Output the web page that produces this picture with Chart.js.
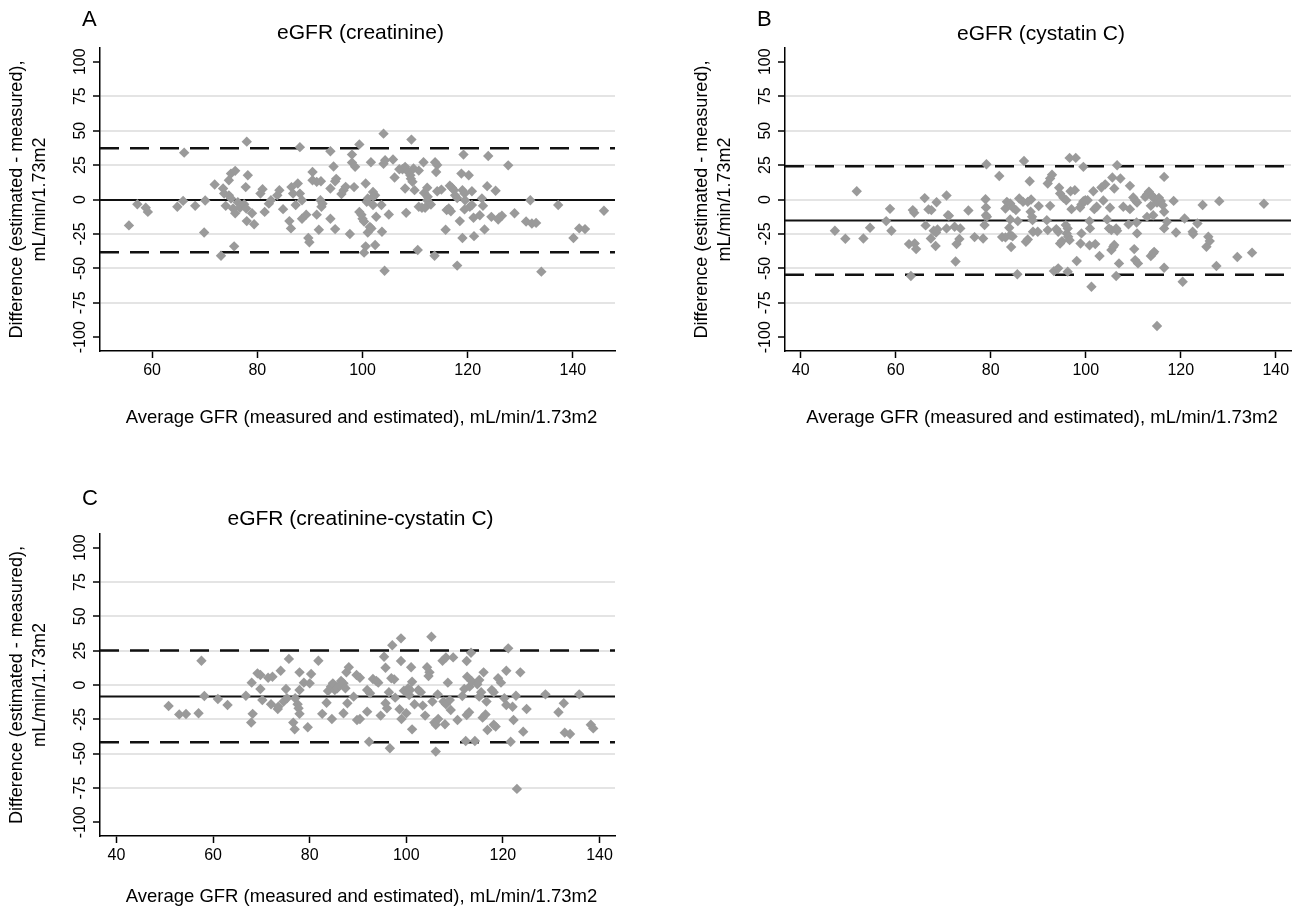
<!DOCTYPE html>
<html>
<head>
<meta charset="utf-8">
<script src="https://cdn.jsdelivr.net/npm/chart.js@4.4.1/dist/chart.umd.min.js"></script>
<style>
  html, body { margin: 0; padding: 0; background: #fff; }
  #wrap { position: relative; width: 1298px; height: 914px; }
  #wrap canvas { position: absolute; left: 0; top: 0; }
</style>
</head>
<body>
<div id="wrap">
  <canvas id="cA" width="1298" height="914"></canvas>
  <canvas id="cB" width="1298" height="914"></canvas>
  <canvas id="cC" width="1298" height="914"></canvas>
</div>
<script>
// Bland-Altman points [average GFR, difference]
const ptsA = [
  [55.6,-18.8],[57.2,-3.4],[58.8,-6],[59.2,-9],[64.8,-5.3],[65.9,-1],[66.1,34],[68.2,-4.6],[69.9,-24],[70.1,-0.7],
  [71.9,10.9],[73.1,-40.8],[73.5,8],[73.7,4.3],[74,-4.6],[74.6,14],[75,18.8],[75.8,20.8],[74.6,3],[75,0.7],
  [75.4,-6.5],[75.8,-10],[75.6,-34],[76.3,-2],[76.7,-6],[77.5,-3.5],[77.9,-6.5],[77.8,9],[78,42],[78.2,17.6],
  [78,-15.7],[79,-10],[79.4,-18],[80.6,4.3],[81,7.5],[81.4,-9],[82.2,-3],[82.6,-0.5],[83.8,3],[84.2,6.8],
  [84.9,-7],[86.1,-15.7],[86.4,-21],[86.5,9],[86.8,4.3],[87.3,-4],[87.7,11.6],[88.1,38],[88.1,4.3],[88.5,-0.5],
  [88.5,-14],[89.3,-11],[89.7,-28],[89.9,-31],[90.5,20],[90.5,14],[91.3,12.8],[92.1,13.3],[91.3,-11],[91.7,-22],
  [92,-0.5],[92.4,-3],[92.2,-5.3],[93.9,-14],[93.9,35],[93.9,8],[94.5,24],[94.8,13.3],[95,15],[94.8,-21.5],
  [96,4],[96.4,6.8],[96.8,9.2],[97.6,-25],[98,32.6],[98,26.8],[98.6,23.7],[98.4,9],[99.4,40],[99.4,-9],
  [99.8,-11],[100,-14],[100.3,-16],[100.3,-38.6],[100.6,11.6],[100.6,-34],[101,0.7],[100.8,-1.7],[101,-24],[101.4,-20],
  [101.7,-21],[101.6,27],[102,5.5],[102.4,3],[102,2],[102,-4],[102.4,-33],[102.6,-12.5],[103.6,-4],[103.7,-23.4],
  [104,47.8],[104,26],[104.3,28.5],[104.2,-51.7],[105,-10.9],[105.8,29],[106.1,16],[107,22],[107.6,22],[108.1,23.7],
  [108.1,8],[108.3,-9.7],[108.7,20],[109.1,17.6],[109.2,15],[109.5,12.8],[109.3,43.5],[109.7,22.5],[109.9,6.8],[110.5,-36.7],
  [110.7,21],[110.7,-5.3],[111.3,-6],[111.6,27],[111.7,4.8],[112.3,-0.5],[112.4,2],[112.3,8.5],[111.9,-6],[113,-3.6],
  [113.7,-40.8],[113.8,27],[114.2,25],[114,20],[114.2,6],[115,7.2],[115.8,-22],[116,-7.7],[116.4,-6.5],[116.8,-8.5],
  [116.6,10],[117,8.5],[117.4,6.8],[117.6,3],[118,1],[118,-48],[118.5,-15.7],[118.8,18.8],[119,6.8],[119.2,32.6],
  [119,-28],[119.4,4.3],[119.5,-0.5],[119.4,-7.2],[120.2,17.6],[120.4,-5.3],[120.8,-4],[120.8,6],[121.1,-13.3],[121.2,-26.6],
  [122.3,-11.4],[122.7,0.7],[122.9,-4.6],[123.2,-21.7],[123.7,9.7],[123.9,31.6],[124.5,-12.6],[125.3,6.3],[125.8,-14.5],[126,-13],
  [126.5,-11.8],[127.7,24.8],[128.9,-10],[131.1,-16],[131.9,-0.5],[132.2,-17.4],[133,-17],[134,-52.4],[137.2,-4],[140.1,-28],
  [141.2,-21],[142.3,-21.5],[145.9,-8.2]
];
const ptsB = [
  [47.2,-22.7],[49.4,-28.5],[51.8,6],[53.2,-28.3],[54.6,-20.5],[58,-15.7],[58.8,-6.8],[59.1,-22.7],[62.8,-32.4],[63.2,-55.5],
  [63.6,-7.7],[63.9,-9.7],[64,-32],[64.3,-36],[66.1,1],[66.3,-18.8],[66.9,-7.2],[67.5,-7.7],[67.4,-28.3],[68,-22.7],
  [68.5,-24],[68.8,-21.7],[68.4,-33.8],[68.6,-2],[70.7,2.9],[71,-11.4],[71.2,-11.8],[70.7,-21],[72.4,-19.8],[73.6,-21],
  [72.8,-32.4],[73.4,-28.7],[72.6,-45],[75.3,-8],[76.6,-27.3],[78.4,-28.3],[78.7,-18.6],[78.9,0.2],[79,-5.8],[79,-11.4],
  [79.1,25.6],[79.2,-12.6],[81.8,17.1],[82.4,-27.3],[83.1,-27.5],[83.1,-6.5],[83.4,-1.7],[84.1,-2.9],[84.7,-6],[83.9,-20.5],
  [84.1,-14.5],[84.1,-25.8],[84.6,-26.8],[84.3,-34.5],[85.3,-7.7],[85.6,-54.3],[85.7,-15.7],[86,0.7],[87,28],[86.8,-1.7],
  [87.4,-30.7],[87.8,-29],[87.8,-1.7],[88.5,0],[88.2,13.3],[88.4,-8.9],[88.7,-12.6],[88.8,-15],[88.9,-23.4],[90.1,-4.8],
  [89.9,-23.4],[91.8,-15],[92,-22.2],[92,11.6],[92.5,15.2],[92.9,18],[92.5,-4.6],[93.3,-52],[94.2,-50],[93.8,-21.5],
  [94.2,-23.4],[94.4,8.5],[94.6,4.3],[94.6,-31.9],[95,-30.2],[95.3,1.2],[95.9,-0.5],[95.8,-18.6],[96.2,-21],[96,-24.6],
  [96.3,-27],[96.6,-29.5],[96.2,-52.4],[96.6,30.2],[97.9,30.2],[96.8,6],[97.7,6.8],[97,-7],[98.1,-44.7],[98.8,-5.8],
  [99.1,-3.6],[99.5,-1.2],[99.9,-0.5],[100.4,-0.5],[98.9,-31.9],[99.1,-24.6],[99.5,23.7],[100.8,-15.7],[100.9,-21],[100.8,-33.3],
  [101.2,-63.3],[101.6,6],[101.8,-7],[102.3,-5.3],[102,-32.4],[102.9,-41],[103.3,8.7],[103.7,-0.7],[104.1,11],[104.5,-14.5],
  [104.9,-21],[105.4,-22.2],[105.1,-6],[105.4,-36.7],[105.8,-34.3],[106,-33],[105.6,16],[106,8],[106.4,-21],[106.6,-22.7],
  [106.6,24.9],[106.4,-55.5],[107.3,15.2],[107,-46.4],[107.9,-5.3],[109,-18],[109.3,-7],[109.3,9.9],[110,1.4],[110.4,-0.5],
  [110.8,-2.2],[110.2,-36],[110.4,-44],[111,-46.4],[110.7,-16.7],[110.8,-24.6],[112.5,1.9],[112.9,3.6],[113.3,5.6],[113.7,3.6],
  [114.1,1.9],[114.5,0.7],[113.7,-4.6],[115,-2.2],[115.4,1.2],[115.8,-1],[116.2,-4.1],[116.5,-8.9],[112.9,-12.6],[114.2,-11.4],
  [113.7,-41],[114.2,-39],[114.4,-38],[115,-91.8],[116.5,16.4],[116.5,-21],[117.1,-16.2],[116.5,-49.5],[118.5,-1],[119,-24],
  [120.4,-59.7],[120.8,-13.8],[122.5,-23.4],[122.6,-25],[123.5,-17.4],[124.6,-4],[125.4,-34.3],[125.8,-27],[126.1,-30.2],[127.5,-48.3],
  [128.1,-1.2],[131.9,-41.8],[135,-38.6],[137.5,-3.1]
];
const ptsC = [
  [50.8,-15.3],[53,-21.4],[54.4,-21.1],[57,-20.6],[57.6,17.7],[58.2,-8],[61,-10.2],[63,-14.6],[66.8,-7.8],[68,1.7],
  [68.2,-21],[67.9,-27.4],[69.2,8.5],[69.8,7.3],[69.8,-2.9],[70.2,-10.9],[71.4,5.3],[72.3,6],[72,-14],[73.4,-17.5],
  [73.5,-15.8],[74,10.4],[74.6,-12],[75.1,-2.9],[75.3,-9.7],[75.7,19],[76.6,-27.4],[76.9,-32.3],[77,-9.7],[77.5,-14],
  [77.7,-17],[77.9,9.2],[77.9,-3.6],[77.9,-21],[78.8,1.7],[79.6,-30.8],[80,1.2],[80.3,8],[81.8,17.7],[82.6,-21],
  [83.5,-12.9],[83.8,-4.4],[84.4,-1.2],[84.8,1.2],[84.6,-24.8],[85.2,-3.6],[85.7,-2.4],[86.1,-0.5],[86.5,2.9],[87,1.2],
  [87,-20.6],[87.4,-2.4],[87.6,9.2],[88.1,12.9],[87.8,-13.3],[89.1,-8.5],[89.7,7.3],[90.4,5.3],[89.8,-25.5],[90.4,-24.8],
  [91.9,-3.6],[91.9,-19.4],[92.3,-41.3],[92.5,-6],[93.1,4.4],[93.8,2.9],[94.2,1.7],[94.7,-22.3],[95.4,20.6],[95.7,12.6],
  [95.7,-13.3],[96,-17],[96.4,-5.3],[96.6,-46.1],[97.1,29],[96.9,4.9],[97.5,4.1],[97.7,-9.2],[98.9,34],[98.9,17.5],
  [98.6,-17.7],[99,-24.8],[99.5,-4.1],[100,-20.6],[100.4,-2.4],[100.8,-3.6],[100.6,-7.3],[101,12.9],[101.2,2.4],[101.2,-32.3],
  [101.7,-14],[102.5,-3.6],[103,-5.3],[103.4,-15],[103.9,-22.3],[104.3,12.9],[104.8,9.2],[104.6,6.5],[105.2,35.2],[105.4,-12.1],
  [105.8,-27.4],[106.1,-29],[106.1,-48.5],[106.5,-6.8],[106.6,-24.8],[107.5,17.7],[108.2,20],[107.7,-12.1],[108.2,-14],[108,-28.6],
  [108.6,1.7],[109,-10.9],[109.2,-18.2],[109.7,20.1],[110.6,-25.5],[111.6,-8],[112,-2.9],[112.3,-40.8],[112.5,17.5],[112.6,6],
  [113.1,-1.2],[113.5,2.9],[112.5,-21.8],[113,-19.9],[113.4,23.5],[114.2,-40.8],[114.7,0.5],[115.1,3.6],[115.1,-8.5],[115.5,-5.3],
  [116,9.2],[115.8,-23.8],[116.4,-21.4],[116.6,-12.1],[116.8,-32.8],[117.7,-3.6],[118.1,-5.3],[118.1,-29],[118.5,-30.3],[119,4.9],
  [119.6,1.7],[120.3,-9.7],[120.7,-14.6],[120.7,10.4],[121.1,26.7],[121.6,-41.3],[122,-15.8],[122.2,-25.5],[122.7,-7.8],[122.9,-75.7],
  [123.6,9.2],[124.2,-34],[124.9,-17.5],[128.8,-6.8],[131.5,-19.9],[132.6,-13.3],[132.8,-34.7],[133.9,-35.7],[135.8,-6.8],[138.2,-29],
  [138.7,-31.6]
];

// lower limit of agreement, mean difference, upper limit
const limitsA = [-38.3, -0.4, 37.3];
const limitsB = [-54.6, -15.2, 24.2];
const limitsC = [-41.7, -8.3, 25.2];

const xRangeA = [50.1, 148.0];
const xRangeB = [36.7, 143.2];
const xRangeC = [36.6, 143.2];
const yRange = [-110, 110];

const xTicksA = [60, 80, 100, 120, 140];
const xTicksBC = [40, 60, 80, 100, 120, 140];
const yTicks = [-100, -75, -50, -25, 0, 25, 50, 75, 100];

const titles = ["eGFR (creatinine)", "eGFR (cystatin C)", "eGFR (creatinine-cystatin C)"];
const letters = ["A", "B", "C"];
const xTitle = "Average GFR (measured and estimated), mL/min/1.73m2";
const yTitle = ["Difference (estimated - measured),", "mL/min/1.73m2"];

const W = 1298, H = 914;
const FONT = '"Liberation Sans", Arial, Helvetica, sans-serif';

// draws the panel letter, title, tick labels and axis titles
const panelText = {
  id: "panelText",
  afterDraw(chart, args, o) {
    const { ctx, chartArea: a, scales } = chart;
    const cx = (a.left + a.right) / 2;
    const cy = (a.top + a.bottom) / 2;
    ctx.save();
    ctx.fillStyle = "#000";
    ctx.textBaseline = "middle";

    ctx.font = "22px " + FONT;
    ctx.textAlign = "left";
    ctx.fillText(o.letter, o.letterX, o.letterY);
    ctx.font = "21px " + FONT;
    ctx.textAlign = "center";
    ctx.fillText(o.title, cx + 3, o.titleY);

    ctx.font = "16px " + FONT;
    o.xTicks.forEach((v) => {
      ctx.fillText(String(v), scales.x.getPixelForValue(v), a.bottom + 20);
    });
    yTicks.forEach((v) => {
      ctx.save();
      ctx.translate(a.left - 19, scales.y.getPixelForValue(v));
      ctx.rotate(-Math.PI / 2);
      ctx.fillText(String(v), 0, 0);
      ctx.restore();
    });

    ctx.font = "18.5px " + FONT;
    ctx.fillText(xTitle, cx + 4, o.xTitleY);
    ctx.font = "18px " + FONT;
    [a.left - 83, a.left - 60].forEach((x, i) => {
      ctx.save();
      ctx.translate(x, cy);
      ctx.rotate(-Math.PI / 2);
      ctx.fillText(yTitle[i], 0, 0);
      ctx.restore();
    });
    ctx.restore();
  },
};

function limitLine(y, range, dashed) {
  return {
    data: [{ x: range[0], y: y }, { x: range[1], y: y }],
    showLine: true,
    pointRadius: 0,
    borderColor: "#111",
    borderWidth: dashed ? 2.5 : 2,
    borderDash: dashed ? [19, 11] : [],
    order: 1,
  };
}

function makePanel(id, pts, limits, xRange, xTicks, i, box) {
  new Chart(document.getElementById(id), {
    type: "scatter",
    data: {
      datasets: [
        {
          data: pts.map((p) => ({ x: p[0], y: p[1] })),
          pointStyle: "rectRot",
          pointRadius: 5.2,
          backgroundColor: "#9a9a9a",
          borderWidth: 0,
          order: 0,
        },
        limitLine(limits[0], xRange, true),
        limitLine(limits[1], xRange, false),
        limitLine(limits[2], xRange, true),
      ],
    },
    options: {
      responsive: false,
      animation: false,
      events: [],
      layout: {
        padding: {
          left: box.left - 10,
          right: W - box.right,
          top: box.top,
          bottom: H - box.bottom - 10,
        },
      },
      plugins: {
        legend: { display: false },
        tooltip: { enabled: false },
        panelText: {
          letter: letters[i],
          title: titles[i],
          xTicks: xTicks,
          letterX: box.letterX,
          letterY: box.letterY,
          titleY: box.titleY,
          xTitleY: box.xTitleY,
        },
      },
      scales: {
        x: {
          type: "linear",
          min: xRange[0],
          max: xRange[1],
          afterBuildTicks: (s) => { s.ticks = xTicks.map((v) => ({ value: v })); },
          afterFit: (s) => { s.height = 10; },
          ticks: { display: false },
          grid: { drawOnChartArea: false, tickLength: 7, tickColor: "#000", tickWidth: 1.5 },
          border: { color: "#000", width: 1.5 },
        },
        y: {
          type: "linear",
          min: yRange[0],
          max: yRange[1],
          afterBuildTicks: (s) => { s.ticks = yTicks.map((v) => ({ value: v })); },
          afterFit: (s) => { s.width = 10; },
          ticks: { display: false },
          grid: {
            color: (c) => (c.tick && Math.abs(c.tick.value) === 100 ? "rgba(0,0,0,0)" : "#e4e4e4"),
            lineWidth: 2,
            tickLength: 7,
            tickColor: "#000",
            tickWidth: 1.5,
          },
          border: { color: "#000", width: 1.5 },
        },
      },
    },
    plugins: [panelText],
  });
}

makePanel("cA", ptsA, limitsA, xRangeA, xTicksA, 0,
  { left: 100, right: 615, top: 48, bottom: 351, letterX: 82, letterY: 20, titleY: 33, xTitleY: 418 });
makePanel("cB", ptsB, limitsB, xRangeB, xTicksBC, 1,
  { left: 785, right: 1291, top: 48, bottom: 351, letterX: 757, letterY: 20, titleY: 34, xTitleY: 418 });
makePanel("cC", ptsC, limitsC, xRangeC, xTicksBC, 2,
  { left: 100, right: 615, top: 534, bottom: 836, letterX: 82, letterY: 499, titleY: 519, xTitleY: 897 });
</script>
</body>
</html>
